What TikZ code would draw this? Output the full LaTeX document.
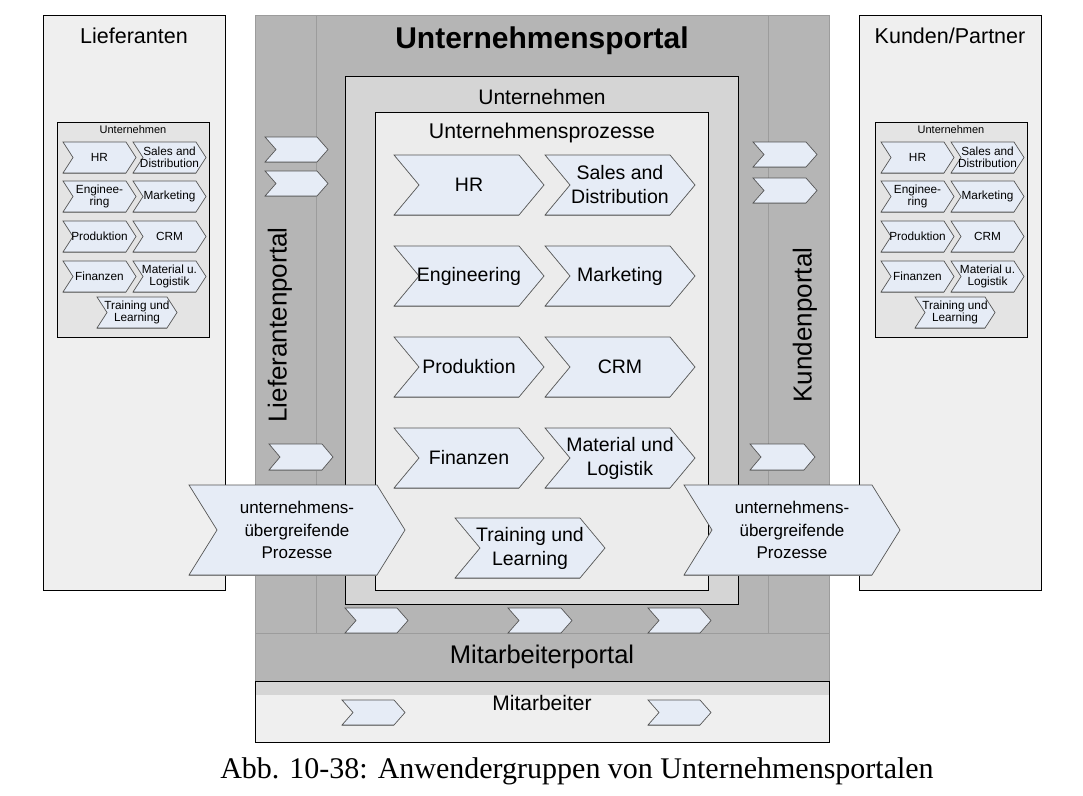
\documentclass[tikz,border=0pt]{standalone}
\usepackage{fontspec}
\setmainfont{Liberation Sans}
\newfontfamily\capfont{Liberation Serif}

\definecolor{portalgray}{HTML}{B5B5B5}
\definecolor{firmgray}{HTML}{D5D5D5}
\definecolor{procgray}{HTML}{ECECEC}
\definecolor{groupgray}{HTML}{EFEFEF}
\definecolor{smallgray}{HTML}{E4E4E4}
\definecolor{chevfill}{HTML}{E6ECF6}
\definecolor{chevline}{HTML}{555555}
\definecolor{chevshade}{HTML}{8A8A8A}
\definecolor{portline}{HTML}{9C9C9C}

\tikzset{
  groupbox/.style={draw=black, line width=0.9pt},
  chev/.style={draw=chevline, fill=chevfill, line width=0.7pt, line join=miter},
  chevtxt/.style={align=center, inner sep=0pt},
  midtxt/.style={font=\fontsize{19.5}{24}\selectfont},
  bigtxt/.style={font=\fontsize{17}{22.5}\selectfont},
  tinytxt/.style={font=\fontsize{11.8}{12.5}\selectfont},
  lbl/.style={inner sep=0pt},
}

% chevron: name, left x, top y, width, height, depth, text style, text
\newcommand\chevr[8]{%
  \draw[chevshade, line width=1.2pt] ({#2+#4-#6},{#3+#5}) -- ++({#6-#4},0);
  \draw[chev] (#2,#3) -- ++({#4-#6},0) -- ++(#6,{#5/2}) -- ++(-#6,{#5/2})
    -- ++({#6-#4},0) -- ++(#6,{-#5/2}) -- cycle;
  \node[chevtxt,#7] (#1) at ({#2+#4/2},{#3+#5/2}) {#8};}

\begin{document}
\begin{tikzpicture}[x=1pt,y=-1pt]
\useasboundingbox (0,0) rectangle (1083,795);

% Lieferanten / Kunden
\draw[groupbox, fill=groupgray] (43,15) rectangle (225,590);
\draw[groupbox, fill=groupgray] (859,15) rectangle (1041,590);
\node[lbl, font=\fontsize{21.5}{24}\selectfont] (lief) at (134,36) {Lieferanten};
\node[lbl, font=\fontsize{21.5}{24}\selectfont] (kund) at (950,36) {Kunden/Partner};

% portal
\fill[portalgray] (255,15) rectangle (829,681);
\draw[portline, line width=0.6pt] (255,15) -- (829,15) (255,15) -- (255,681) (829,15) -- (829,681);
\draw[portline, line width=0.6pt] (316,15) -- (316,633) (768,15) -- (768,633) (255,633) -- (829,633);
\node[lbl, font=\bfseries\fontsize{30}{34}\selectfont] (portal) at (542,41) {Unternehmensportal};
\node[lbl, rotate=90, font=\fontsize{26}{30}\selectfont] (liefportal) at (280,325) {Lieferantenportal};
\node[lbl, rotate=90, font=\fontsize{26}{30}\selectfont] (kundportal) at (805,325) {Kundenportal};
\node[lbl, font=\fontsize{25.5}{30}\selectfont] (maportal) at (542,657) {Mitarbeiterportal};

% Mitarbeiter
\fill[groupgray] (255,681) rectangle (829,742);
\fill[firmgray] (255,681) rectangle (829,695);
\draw[groupbox] (255,681) rectangle (829,742);
\node[lbl, font=\fontsize{21}{24}\selectfont] (ma) at (542,703) {Mitarbeiter};

% Unternehmen
\draw[groupbox, fill=firmgray] (345,76) rectangle (738,604);
\node[lbl, font=\fontsize{21}{24}\selectfont] (firm) at (542,97) {Unternehmen};
\draw[groupbox, fill=procgray] (375,112) rectangle (708,590);
\node[lbl, font=\fontsize{21.3}{24}\selectfont] (proc) at (542,133) {Unternehmensprozesse};

% Prozesse
\chevr{hr}{394}{155}{150}{60}{25}{midtxt}{HR}
\chevr{sales}{545}{155}{150}{60}{25}{midtxt}{Sales and\\Distribution}
\chevr{eng}{394}{246}{150}{60}{25}{midtxt}{Engineering}
\chevr{mark}{545}{246}{150}{60}{25}{midtxt}{Marketing}
\chevr{prod}{394}{337}{150}{60}{25}{midtxt}{Produktion}
\chevr{crm}{545}{337}{150}{60}{25}{midtxt}{CRM}
\chevr{fin}{394}{428}{150}{60}{25}{midtxt}{Finanzen}
\chevr{mat}{545}{428}{150}{60}{25}{midtxt}{Material und\\Logistik}
\chevr{train}{455}{518}{150}{60}{25}{midtxt}{Training und\\Learning}

% kleine Unternehmen links und rechts
\foreach \bx/\pre in {57/l,875/r}{
  \draw[line width=0.8pt, fill=smallgray] (\bx,122) rectangle ++(152,215);
  \node[lbl, font=\fontsize{11}{12}\selectfont] (\pre firm) at ({\bx+76},130) {Unternehmen};
  \chevr{\pre hr}{\bx+6}{142}{73}{31}{10}{tinytxt}{HR}
  \chevr{\pre sales}{\bx+76}{142}{73}{31}{10}{tinytxt}{Sales and\\Distribution}
  \chevr{\pre eng}{\bx+6}{181}{73}{31}{10}{tinytxt}{Enginee-\\ring}
  \chevr{\pre mark}{\bx+76}{181}{73}{31}{10}{tinytxt}{Marketing}
  \chevr{\pre prod}{\bx+6}{221}{73}{31}{10}{tinytxt}{Produktion}
  \chevr{\pre crm}{\bx+76}{221}{73}{31}{10}{tinytxt}{CRM}
  \chevr{\pre fin}{\bx+6}{261}{73}{31}{10}{tinytxt}{Finanzen}
  \chevr{\pre mat}{\bx+76}{261}{73}{31}{10}{tinytxt}{Material u.\\Logistik}
  \chevr{\pre train}{\bx+40}{297}{80}{31}{10}{tinytxt}{Training und\\Learning}
}

% Portal-Pfeile
\chevr{lp1}{265}{137}{63}{25}{11}{}{}
\chevr{lp2}{265}{171}{63}{25}{11}{}{}
\chevr{lp3}{269}{444}{64}{26}{11}{}{}
\chevr{kp1}{753}{142}{64}{25}{11}{}{}
\chevr{kp2}{753}{178}{64}{25}{11}{}{}
\chevr{kp3}{750}{444}{65}{26}{11}{}{}
\chevr{mp1}{345}{608}{63}{25}{11}{}{}
\chevr{mp2}{508}{608}{64}{25}{11}{}{}
\chevr{mp3}{648}{608}{63}{25}{11}{}{}
\chevr{ma1}{342}{700}{63}{25}{11}{}{}
\chevr{ma2}{648}{700}{63}{25}{11}{}{}

% uebergreifend
\chevr{uebl}{189}{485}{216}{90}{28}{bigtxt}{unternehmens-\\übergreifende\\Prozesse}
\chevr{uebr}{684}{485}{216}{90}{28}{bigtxt}{unternehmens-\\übergreifende\\Prozesse}

\node[lbl, font=\capfont\fontsize{30}{34}\selectfont] (cap) at (577,771) {Abb. 10-38: Anwendergruppen von Unternehmensportalen};
\end{tikzpicture}
\end{document}
